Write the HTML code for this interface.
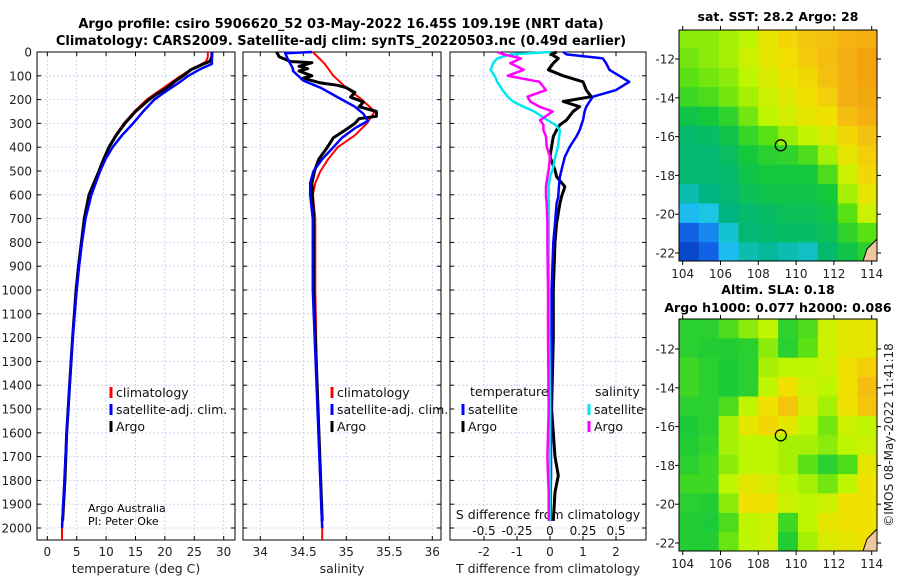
<!DOCTYPE html>
<html><head><meta charset="utf-8"><style>
html,body{margin:0;padding:0;background:#fff;}
svg{display:block;font-family:"DejaVu Sans","Liberation Sans",sans-serif;}
</style></head><body>
<svg id="chart" width="900" height="580" viewBox="0 0 900 580" xmlns="http://www.w3.org/2000/svg">
<defs>
<clipPath id="clipMap1"><rect x="679" y="30" width="198" height="231"/></clipPath>
<clipPath id="clipMap2"><rect x="679" y="319" width="198" height="232"/></clipPath>
</defs>
<text x="341" y="28" text-anchor="middle" font-size="13" font-weight="bold">Argo profile: csiro 5906620_52 03-May-2022 16.45S 109.19E (NRT data)</text>
<text x="341" y="45" text-anchor="middle" font-size="13" font-weight="bold">Climatology: CARS2009. Satellite-adj clim: synTS_20220503.nc (0.49d earlier)</text>
<text x="778" y="21" text-anchor="middle" font-size="12.5" font-weight="bold">sat. SST: 28.2 Argo: 28</text>
<text x="778" y="294" text-anchor="middle" font-size="12.5" font-weight="bold">Altim. SLA: 0.18</text>
<text x="778" y="312" text-anchor="middle" font-size="12.5" font-weight="bold">Argo h1000: 0.077 h2000: 0.086</text>
<text transform="translate(893,435) rotate(-90)" text-anchor="middle" font-size="12" fill="#222">©IMOS 08-May-2022 11:41:18</text>
<text x="88" y="512" font-size="11">Argo Australia</text>
<text x="88" y="525" font-size="11">PI: Peter Oke</text>
<g id="layer"></g>
</svg>
<script>
// ---------- data ----------
const depthTicks = [0,100,200,300,400,500,600,700,800,900,1000,1100,1200,1300,1400,1500,1600,1700,1800,1900,2000];
const tempTicks = [0,5,10,15,20,25,30];
const salTicks = [34,34.5,35,35.5,36];
const salTickLabels = ["34","34.5","35","35.5","36"];
const tdiffTicks = [-2,-1,0,1,2];
const sdiffTicks = [-0.5,-0.25,0,0.25,0.5];
const sdiffTickLabels = ["-0.5","-0.25","0","0.25","0.5"];

const depthT = [0,20,40,50,75,100,125,150,175,200,250,300,350,400,450,500,600,700,800,900,1000,1200,1400,1600,1800,2000];
const tempClim = [27.3,27.3,27.0,26.3,24.3,22.7,21.2,19.8,18.3,16.9,14.8,13.0,11.6,10.4,9.5,8.7,7.3,6.4,5.9,5.4,5.0,4.3,3.8,3.3,2.9,2.5];
const tempSat = [28,28,28,28,25.8,24,22.6,21.1,19.6,18.2,16.3,14.6,12.7,11.1,9.9,9.0,7.5,6.5,5.9,5.4,5.0,4.3,3.8,3.3,2.9,2.5];
const depthTA = [0,20,40,50,75,100,125,150,175,200,250,300,350,400,450,500,600,700,800,900,1000,1200,1400,1600,1800,1970];
const tempArgo = [28,28,27.6,26.6,24.4,23.1,21.6,20.4,18.7,17.3,15.0,13.2,11.7,10.5,9.6,8.8,7.1,6.3,5.8,5.3,4.9,4.3,3.8,3.3,3.0,2.6];

const depthS = [0,50,100,150,200,250,300,350,400,450,500,550,600,700,1000,1400,2000];
const salClim = [34.61,34.75,34.85,35.0,35.18,35.33,35.24,35.1,34.9,34.79,34.7,34.64,34.61,34.64,34.64,34.66,34.72];
const depthSS = [0,5,30,70,80,120,150,200,230,260,290,320,360,400,450,500,550,600,700,1000,2000];
const salSat = [34.6,34.29,34.32,34.38,34.38,34.5,34.7,34.95,35.1,35.2,35.25,35.1,34.95,34.85,34.72,34.62,34.58,34.58,34.61,34.61,34.72];
const depthSA = [0,20,40,45,50,60,70,80,100,110,130,140,150,170,190,210,230,250,270,280,300,330,360,400,450,500,550,700,1000,1970];
const salArgo = [34.19,34.22,34.35,34.6,34.55,34.45,34.55,34.45,34.6,34.5,34.7,34.9,35.0,35.1,35.05,35.2,35.15,35.35,35.35,35.15,35.1,34.98,34.85,34.78,34.68,34.63,34.6,34.62,34.62,34.72];

const depthD = [0,10,27,47,75,100,125,160,188,208,230,250,286,306,328,355,398,440,496,524,566,608,636,720,800,1000,1200,1500,1700,1780,1850,1970];
const tdiffSat = [0.4,0.5,1.6,1.7,1.8,2.1,2.4,2.0,1.3,1.2,1.1,1.05,1.0,0.95,0.9,0.8,0.6,0.45,0.35,0.3,0.27,0.25,0.2,0.15,0.1,0.05,0.05,0.03,0.03,0.03,0.02,0.02];
const tdiffArgo = [0.2,0.05,0.25,0.1,-0.05,0.4,1.0,1.1,1.25,0.4,0.9,0.7,0.5,0.3,0.2,0.1,0.05,0.0,0.15,0.2,0.45,0.35,0.3,0.2,0.15,0.1,0.1,0.05,0.15,0.25,0.15,0.1];
const sdiffSat = [0.005,-0.3,-0.4,-0.43,-0.45,-0.42,-0.4,-0.36,-0.32,-0.28,-0.2,-0.12,-0.02,0.04,0.075,0.07,0.06,0.04,0.02,0.0,-0.01,-0.01,-0.01,-0.01,-0.01,-0.01,-0.005,0,0,0,0,0];
const sdiffArgo = [-0.4,-0.35,-0.22,-0.3,-0.2,-0.32,-0.08,-0.03,-0.17,-0.15,-0.08,0.02,-0.075,-0.05,-0.05,-0.03,-0.025,0.0,-0.01,-0.02,-0.03,-0.03,-0.025,-0.02,-0.02,-0.015,-0.015,-0.01,-0.02,-0.015,-0.01,-0.01];

const mapLatTicks = [-12,-14,-16,-18,-20,-22];
const mapLonTicks = [104,106,108,110,112,114];
const sstGrid = [
[0.66,0.66,0.68,0.70,0.76,0.80,0.84,0.85,0.88,0.90],
[0.64,0.66,0.68,0.72,0.76,0.79,0.83,0.86,0.90,0.95],
[0.62,0.64,0.66,0.70,0.74,0.77,0.80,0.85,0.90,0.95],
[0.58,0.60,0.64,0.68,0.72,0.75,0.78,0.82,0.90,0.93],
[0.50,0.52,0.56,0.64,0.70,0.73,0.76,0.78,0.86,0.90],
[0.45,0.46,0.50,0.57,0.62,0.67,0.71,0.74,0.80,0.85],
[0.44,0.44,0.47,0.52,0.55,0.56,0.60,0.68,0.76,0.82],
[0.44,0.44,0.45,0.50,0.52,0.52,0.52,0.60,0.72,0.80],
[0.38,0.42,0.44,0.48,0.50,0.50,0.50,0.52,0.68,0.76],
[0.30,0.33,0.42,0.45,0.46,0.48,0.48,0.50,0.62,0.72],
[0.15,0.22,0.35,0.44,0.45,0.46,0.46,0.48,0.56,0.62],
[0.08,0.15,0.30,0.38,0.40,0.38,0.36,0.45,0.50,0.55]];
const slaGrid = [
[0.55,0.55,0.60,0.66,0.70,0.56,0.60,0.72,0.76,0.76],
[0.55,0.54,0.54,0.55,0.66,0.55,0.62,0.72,0.76,0.76],
[0.58,0.55,0.53,0.55,0.68,0.70,0.70,0.72,0.78,0.82],
[0.58,0.55,0.53,0.55,0.70,0.78,0.72,0.70,0.78,0.86],
[0.55,0.55,0.60,0.70,0.78,0.84,0.74,0.68,0.78,0.84],
[0.53,0.55,0.68,0.76,0.80,0.76,0.70,0.64,0.72,0.70],
[0.54,0.56,0.68,0.70,0.70,0.68,0.68,0.66,0.70,0.72],
[0.55,0.58,0.66,0.70,0.70,0.68,0.62,0.55,0.60,0.76],
[0.58,0.58,0.70,0.76,0.74,0.70,0.68,0.64,0.70,0.78],
[0.55,0.54,0.66,0.78,0.78,0.72,0.70,0.72,0.78,0.78],
[0.54,0.53,0.60,0.70,0.72,0.58,0.70,0.76,0.78,0.78],
[0.54,0.54,0.63,0.70,0.72,0.54,0.68,0.74,0.76,0.78]];
const argoLon = 109.19, argoLat = -16.45;

// ---------- helpers ----------
const NS="http://www.w3.org/2000/svg";
const layer=document.getElementById('layer');
function mk(tag,attrs,parent){const e=document.createElementNS(NS,tag);for(const k in attrs)e.setAttribute(k,attrs[k]);(parent||layer).appendChild(e);return e;}
const TOP=52, BOT=540;
const yD = d => TOP + d*0.238;
const P1={x0:37,x1:235}, P2={x0:243,x1:441}, P3={x0:450,x1:646};
const xT = v => 47.3 + v*5.88;
const xS = v => 260.3 + (v-34)*86;
const xTD = v => 550 + v*33;
const xSD = v => 550 + v*132;

function panel(P,name,xTicks,xf,labels,title){
  const g=mk('g',{});
  
  
  depthTicks.forEach(d=>{const l=mk('line',{x1:P.x0,x2:P.x1,y1:yD(d),y2:yD(d),stroke:'#c4cbee','stroke-width':0.8,'stroke-dasharray':'2,2'},g);
    
    mk('line',{x1:P.x0,x2:P.x0+4,y1:yD(d),y2:yD(d),stroke:'#000'},g);mk('line',{x1:P.x1-4,x2:P.x1,y1:yD(d),y2:yD(d),stroke:'#000'},g);});
  xTicks.forEach((v,i)=>{const x=xf(v);const l=mk('line',{x1:x,x2:x,y1:TOP,y2:BOT,stroke:'#c4cbee','stroke-width':0.8,'stroke-dasharray':'2,2'},g);
    
    mk('line',{x1:x,x2:x,y1:BOT-4,y2:BOT,stroke:'#000'},g);mk('line',{x1:x,x2:x,y1:TOP,y2:TOP+4,stroke:'#000'},g);
    const t=mk('text',{x:x,y:556,'text-anchor':'middle','font-size':12,fill:'#222'},g);t.textContent=labels[i];
    });
  const r=mk('rect',{x:P.x0,y:TOP,width:P.x1-P.x0,height:BOT-TOP,fill:'none',stroke:'#000','stroke-width':1},g);
  
  const tt=mk('text',{x:(P.x0+P.x1)/2,y:573,'text-anchor':'middle','font-size':12.5,fill:'#222'},g);tt.textContent=title;
  
  return g;
}
panel(P1,'temperature-panel',tempTicks,xT,tempTicks.map(String),'temperature (deg C)');
panel(P2,'salinity-panel',salTicks,xS,salTickLabels,'salinity');
panel(P3,'difference-panel',tdiffTicks,xTD,tdiffTicks.map(String),'T difference from climatology');
depthTicks.forEach(d=>{const t=mk('text',{x:32,y:yD(d)+4.5,'text-anchor':'end','font-size':12,fill:'#222'});t.textContent=d;
  });
sdiffTicks.forEach((v,i)=>{const t=mk('text',{x:xSD(v),y:535,'text-anchor':'middle','font-size':12,fill:'#111'});t.textContent=sdiffTickLabels[i];
  });
{const t=mk('text',{x:548,y:519,'text-anchor':'middle','font-size':12.5,fill:'#111'});t.textContent='S difference from climatology';
 }

function series(ds,vs,xf,color,w,name){
  const pts=ds.map((d,i)=>xf(vs[i]).toFixed(1)+','+yD(d).toFixed(1)).join(' ');
  const p=mk('polyline',{points:pts,fill:'none',stroke:color,'stroke-width':w,'stroke-linejoin':'round'});
  
  
}
series(depthT,tempClim,xT,'#ff0000',2,'temp-climatology-line');
series(depthTA,tempArgo,xT,'#000000',3,'temp-argo-line');
series(depthT,tempSat,xT,'#0000ff',2.5,'temp-satellite-line');
series(depthS,salClim,xS,'#ff0000',2,'sal-climatology-line');
series(depthSA,salArgo,xS,'#000000',3,'sal-argo-line');
series(depthSS,salSat,xS,'#0000ff',2.5,'sal-satellite-line');
series(depthD,tdiffArgo,xTD,'#000000',3,'tdiff-argo-line');
series(depthD,tdiffSat,xTD,'#0000ff',2.5,'tdiff-satellite-line');
series(depthD,sdiffSat,xSD,'#00e8f0',2.5,'sdiff-satellite-line');
series(depthD,sdiffArgo,xSD,'#ff00ff',2.5,'sdiff-argo-line');
{const l=mk('line',{x1:xT(2.5),x2:xT(2.5),y1:yD(2000),y2:BOT,stroke:'#f00','stroke-width':2});
 const m=mk('line',{x1:xS(34.72),x2:xS(34.72),y1:yD(2000),y2:BOT,stroke:'#f00','stroke-width':2});}

function legend(x,y,color,label,name){
  const g=mk('g',{});
  
  
  mk('rect',{x:x-1.5,y:y-9,width:3,height:11,fill:color},g);
  const t=mk('text',{x:x+5,y:y+1,'font-size':12.5,fill:'#111'},g);t.textContent=label;
}
legend(111,396,'#f00','climatology','legend-temp-climatology');
legend(111,413,'#00f','satellite-adj. clim.','legend-temp-satellite');
legend(111,430,'#000','Argo','legend-temp-argo');
legend(332,396,'#f00','climatology','legend-sal-climatology');
legend(332,413,'#00f','satellite-adj. clim.','legend-sal-satellite');
legend(332,430,'#000','Argo','legend-sal-argo');
{const t=mk('text',{x:470,y:396,'font-size':12.5,fill:'#111'});t.textContent='temperature';
 const s=mk('text',{x:595,y:396,'font-size':12.5,fill:'#111'});s.textContent='salinity';}
legend(463,413,'#00f','satellite','legend-tdiff-satellite');
legend(463,430,'#000','Argo','legend-tdiff-argo');
legend(589,413,'#00e8f0','satellite','legend-sdiff-satellite');
legend(589,430,'#f0f','Argo','legend-sdiff-argo');

// ---------- maps ----------
const stops=[[0,[0,40,170]],[0.18,[20,110,240]],[0.32,[30,200,240]],[0.42,[0,180,130]],[0.52,[20,200,60]],[0.62,[90,225,20]],[0.7,[190,245,0]],[0.78,[240,225,0]],[0.88,[245,180,20]],[1,[240,150,10]]];
function cmap(v){for(let i=1;i<stops.length;i++){if(v<=stops[i][0]){const a=stops[i-1],b=stops[i],t=(v-a[0])/(b[0]-a[0]);return 'rgb('+a[1].map((c,k)=>Math.round(c+(b[1][k]-c)*t)).join(',')+')';}}return 'rgb(240,150,10)';}
function drawMap(grid,mx0,mx1,my0,my1,lat12y,name,clipId){
  const g=mk('g',{});
  
  
  const cg=mk('g',{'clip-path':'url(#'+clipId+')'},g);
  const lonX=lon=>682.7+(lon-104)*18.9;
  const latY=lat=>lat12y+(-12-lat)*19.4;
  const nr=grid.length,nc=grid[0].length;
  const lon0=103.8,lon1=114.3,lat0=-10.45,lat1=-22.45;
  for(let r=0;r<nr;r++)for(let c=0;c<nc;c++){
    const xa=lonX(lon0+(lon1-lon0)*c/nc),xb=lonX(lon0+(lon1-lon0)*(c+1)/nc)+(c==nc-1?10:0);
    const ya=latY(lat0+(lat1-lat0)*r/nr),yb=latY(lat0+(lat1-lat0)*(r+1)/nr)+(r==nr-1?10:0);
    const cell=mk('rect',{x:xa.toFixed(1),y:ya.toFixed(1),width:(xb-xa+0.6).toFixed(1),height:(yb-ya+0.6).toFixed(1),fill:cmap(grid[r][c])},cg);
    
    
  }
  mk('path',{d:`M${mx1-14},${my1} L${mx1-10},${my1-12} L${mx1-4},${my1-18} L${mx1},${my1-22} L${mx1},${my1} Z`,fill:'#f0c8a0',stroke:'#000','stroke-width':1},cg);
  const cover=mk('rect',{x:mx0,y:my0,width:mx1-mx0,height:my1-my0,fill:'none',stroke:'#000','stroke-width':1},g);
  
  mapLatTicks.forEach(l=>{const y=latY(l);mk('line',{x1:mx0-4,x2:mx0,y1:y,y2:y,stroke:'#000'},g);mk('line',{x1:mx1,x2:mx1+4,y1:y,y2:y,stroke:'#000'},g);
    const t=mk('text',{x:mx0-4,y:y+4.5,'text-anchor':'end','font-size':12,fill:'#222'},g);t.textContent=String(l);
    });
  mapLonTicks.forEach(l=>{const x=lonX(l);mk('line',{x1:x,x2:x,y1:my1,y2:my1+4,stroke:'#000'},g);mk('line',{x1:x,x2:x,y1:my0-4,y2:my0,stroke:'#000'},g);
    const t=mk('text',{x:x,y:my1+17,'text-anchor':'middle','font-size':12,fill:'#222'},g);t.textContent=l;
    });
  const m=mk('circle',{cx:lonX(argoLon),cy:latY(argoLat),r:5.5,fill:'none',stroke:'#000','stroke-width':1.3},g);
  
}
drawMap(sstGrid,679,877,30,261,59,'sst-map','clipMap1');
drawMap(slaGrid,679,877,319,551,349,'sla-map','clipMap2');
</script>
</body></html>
